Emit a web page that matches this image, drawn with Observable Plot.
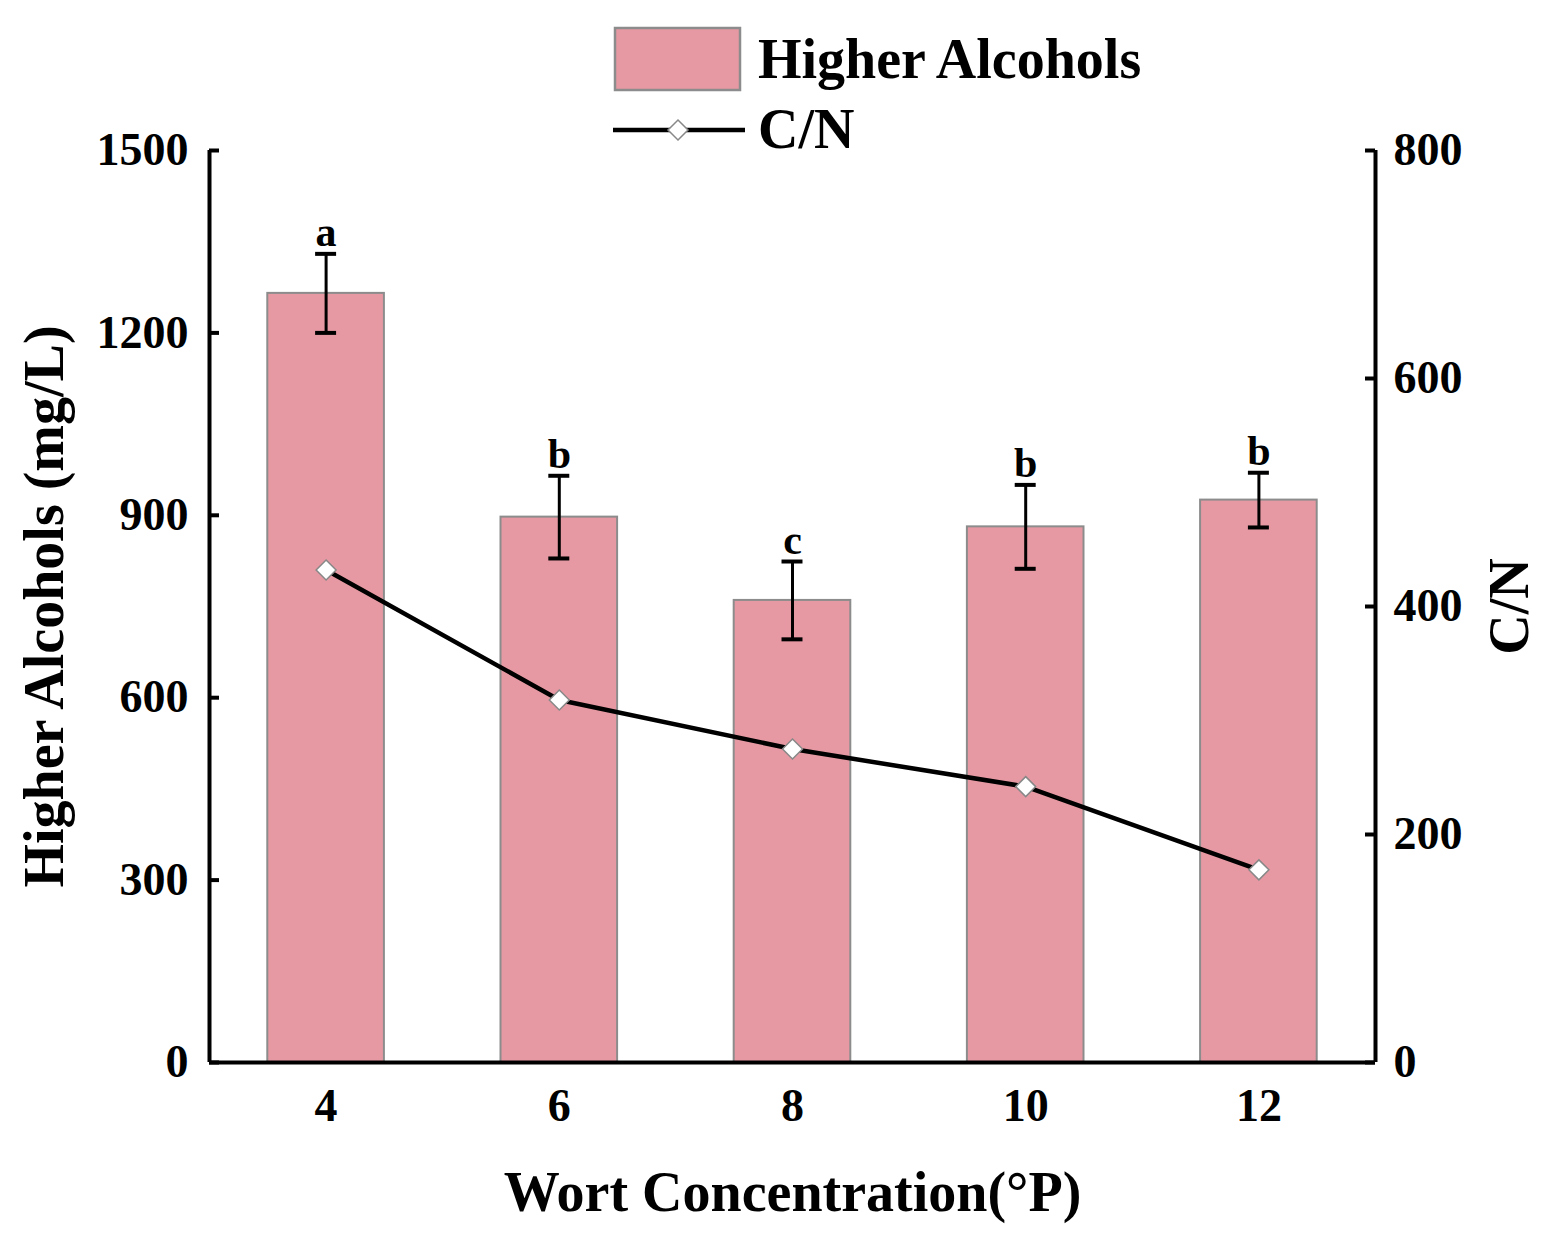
<!DOCTYPE html>
<html>
<head>
<meta charset="utf-8">
<script src="https://cdn.jsdelivr.net/npm/d3@7"></script>
<script src="https://cdn.jsdelivr.net/npm/@observablehq/plot@0.6"></script>
<style>
  body { margin: 0; background: #fff; }
  #chart { width: 1550px; height: 1244px; }
</style>
</head>
<body>
<div id="chart"></div>
<script>
// values
const concentrations = [4, 6, 8, 10, 12];
const higherAlcohols = [1265, 897, 760, 881, 925];
const alcoholErrors = [65, 68, 64, 69, 45];
const letters = ["a", "b", "c", "b", "b"];
const cnRatio = [432, 318, 275, 242, 169];

const leftTicks = [0, 300, 600, 900, 1200, 1500];
const rightTicks = [0, 200, 400, 600, 800];

const barFill = "#e799a3";
const barStroke = "#8c8c8c";
const font = "'Liberation Serif', 'Times New Roman', serif";

// C/N is drawn on the left scale, right axis relabels it
const k = 1500 / 800;
const xMin = 3, xMax = 13;
const tickLen = 10 / 116.6; // inward tick length in x units

const data = concentrations.map((c, i) => ({
    conc: c,
    ha: higherAlcohols[i],
    err: alcoholErrors[i],
    letter: letters[i],
    cn: cnRatio[i] * k
}));

const p = Plot.plot({
    width: 1550,
    height: 1244,
    marginLeft: 209,
    marginRight: 175,
    marginTop: 150,
    marginBottom: 182,
    style: {fontFamily: font, fontWeight: "bold", color: "#000", background: "#fff"},
    x: {domain: [xMin, xMax]},
    y: {domain: [0, 1500]},
    marks: [
        Plot.rectY(data, {
            x1: d => d.conc - 0.5, x2: d => d.conc + 0.5, y1: 0, y2: "ha",
            fill: barFill, stroke: barStroke, strokeWidth: 2
        }),
        // error bars
        Plot.ruleX(data, {x: "conc", y1: d => d.ha - d.err, y2: d => d.ha + d.err, stroke: "#000", strokeWidth: 3}),
        Plot.ruleY(data, {y: d => d.ha + d.err, x1: d => d.conc - 0.09, x2: d => d.conc + 0.09, stroke: "#000", strokeWidth: 4}),
        Plot.ruleY(data, {y: d => d.ha - d.err, x1: d => d.conc - 0.09, x2: d => d.conc + 0.09, stroke: "#000", strokeWidth: 4}),
        Plot.text(data, {
            x: "conc", y: d => d.ha + d.err, text: "letter",
            dy: -8, lineAnchor: "bottom", fontSize: 42, fill: "#000"
        }),
        // C/N line
        Plot.line(data, {x: "conc", y: "cn", stroke: "#000", strokeWidth: 4.5}),
        Plot.dot(data, {x: "conc", y: "cn", symbol: "diamond2", r: 9, fill: "#fff", stroke: "#888", strokeWidth: 1.5}),
        // axes: labels from Plot, inward ticks as short rules
        Plot.axisY(leftTicks, {
            anchor: "left", tickSize: 0, tickPadding: 21,
            fontSize: 46, label: null, tickFormat: d3.format("d")
        }),
        Plot.axisY(rightTicks.map(v => v * k), {
            anchor: "right", tickSize: 0, tickPadding: 18,
            fontSize: 46, label: null, tickFormat: d => d3.format("d")(Math.round(d / k))
        }),
        Plot.axisX(concentrations, {
            anchor: "bottom", tickSize: 0, tickPadding: 26, fontSize: 46, label: null,
            tickFormat: d3.format("d")
        }),
        Plot.ruleY(leftTicks, {y: d => d, x1: xMin, x2: xMin + tickLen, stroke: "#000", strokeWidth: 4}),
        Plot.ruleY(rightTicks, {y: d => d * k, x1: xMax - tickLen, x2: xMax, stroke: "#000", strokeWidth: 4}),
        Plot.ruleX([xMin], {stroke: "#000", strokeWidth: 4}),
        Plot.ruleX([xMax], {stroke: "#000", strokeWidth: 4}),
        Plot.ruleY([0], {stroke: "#000", strokeWidth: 4}),
        // axis titles
        Plot.text(["Higher Alcohols (mg/L)"], {
            frameAnchor: "left", textAnchor: "middle", dx: -164, rotate: -90, fontSize: 56, fill: "#000"
        }),
        Plot.text(["C/N"], {
            frameAnchor: "right", textAnchor: "middle", dx: 135, rotate: -90, fontSize: 56, fill: "#000"
        }),
        Plot.text(["Wort Concentration(°P)"], {
            frameAnchor: "bottom", dy: 148, fontSize: 56, fill: "#000"
        })
    ]
});

// legend at the top
const svg = d3.select(p);
const lg = svg.append("g")
    .attr("font-family", font).attr("font-weight", "bold").attr("font-size", 56)
    .attr("text-anchor", "start");
lg.append("rect").attr("x", 615).attr("y", 28).attr("width", 125).attr("height", 62)
    .attr("fill", barFill).attr("stroke", barStroke).attr("stroke-width", 2.5);
lg.append("text").attr("x", 758).attr("y", 78).text("Higher Alcohols");
lg.append("line").attr("x1", 613).attr("x2", 745).attr("y1", 130).attr("y2", 130)
    .attr("stroke", "#000").attr("stroke-width", 4.5);
lg.append("path").attr("d", d3.symbol(d3.symbolDiamond2, Math.PI * 9 * 9)())
    .attr("transform", "translate(678,130)")
    .attr("fill", "#fff").attr("stroke", "#888").attr("stroke-width", 1.5);
lg.append("text").attr("x", 758).attr("y", 148).text("C/N");

document.querySelector("#chart").append(p);
</script>
</body>
</html>
